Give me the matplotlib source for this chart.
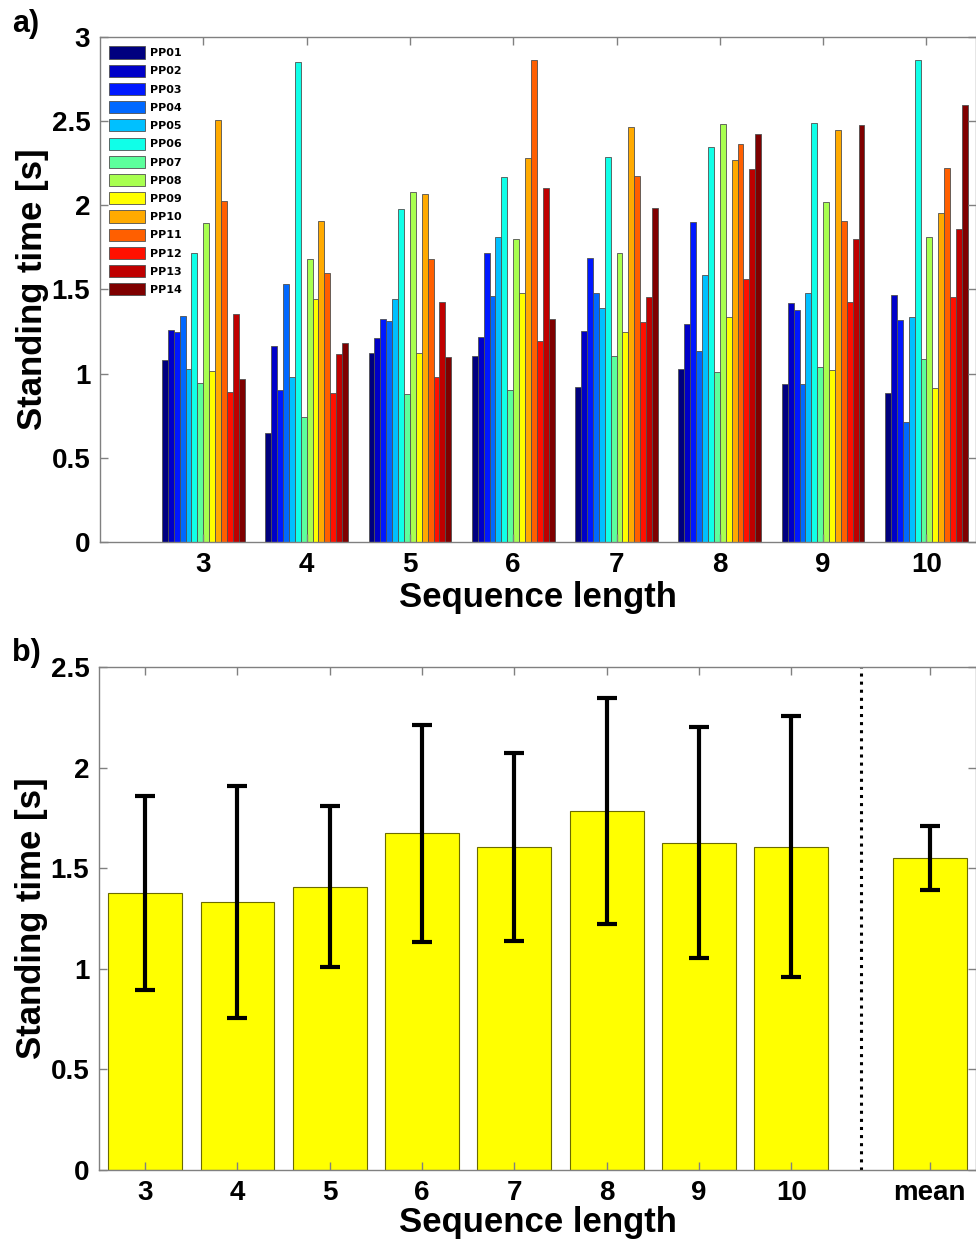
import numpy as np
import matplotlib
matplotlib.use("Agg")
import matplotlib.pyplot as plt
from matplotlib.ticker import FuncFormatter

# --- data ---
seq_lengths = [3, 4, 5, 6, 7, 8, 9, 10]
participants = ["PP%02d" % i for i in range(1, 15)]

# standing time [s] per sequence length, PP01..PP14
t_len3 = [1.08, 1.26, 1.25, 1.34, 1.03, 1.715, 0.943, 1.894, 1.018, 2.507, 2.024, 0.893, 1.355, 0.967]
t_len4 = [0.646, 1.167, 0.903, 1.533, 0.978, 2.854, 0.745, 1.683, 1.442, 1.907, 1.596, 0.883, 1.117, 1.18]
t_len5 = [1.121, 1.214, 1.323, 1.313, 1.446, 1.977, 0.881, 2.082, 1.121, 2.068, 1.68, 0.982, 1.428, 1.097]
t_len6 = [1.107, 1.216, 1.715, 1.464, 1.81, 2.167, 0.903, 1.799, 1.478, 2.28, 2.864, 1.194, 2.10, 1.323]
t_len7 = [0.919, 1.254, 1.686, 1.478, 1.392, 2.288, 1.107, 1.719, 1.246, 2.464, 2.175, 1.305, 1.456, 1.986]
t_len8 = [1.03, 1.295, 1.903, 1.137, 1.588, 2.345, 1.012, 2.484, 1.335, 2.268, 2.365, 1.563, 2.216, 2.424]
t_len9 = [0.941, 1.42, 1.377, 0.937, 1.478, 2.49, 1.04, 2.018, 1.02, 2.448, 1.909, 1.424, 1.80, 2.48]
t_len10 = [0.883, 1.47, 1.321, 0.715, 1.339, 2.864, 1.085, 1.812, 0.913, 1.955, 2.222, 1.456, 1.858, 2.598]

# group mean and std (panel b), last entry = overall mean
mean_labels = ["3", "4", "5", "6", "7", "8", "9", "10", "mean"]
mean_times = [1.377, 1.333, 1.408, 1.674, 1.606, 1.784, 1.627, 1.606, 1.55]
std_times = [0.484, 0.577, 0.40, 0.54, 0.467, 0.562, 0.575, 0.648, 0.16]

pp_colors = ["#00007F", "#0000C8", "#0018FF", "#0068FF", "#00C0FF", "#10FFE8", "#5CFF9C",
             "#A8FF50", "#FFFF00", "#FFAA00", "#FF5F00", "#FF1000", "#BF0000", "#7F0000"]

plt.rcParams["font.family"] = ["Liberation Sans", "DejaVu Sans"]
plt.rcParams["font.weight"] = "bold"

W, H = 976, 1241
fig = plt.figure(figsize=(W / 100., H / 100.), dpi=100)

def style_axes(ax):
    for s in ax.spines.values():
        s.set_color("#808080")
        s.set_linewidth(1.0)
    ax.tick_params(direction="in", length=6, width=1, color="#808080",
                   top=True, right=True, labelsize=20, pad=7)
    for lab in ax.get_xticklabels() + ax.get_yticklabels():
        lab.set_fontweight("bold")

g = lambda v, pos: "%g" % v

# ---------- panel a ----------
ax1 = fig.add_axes([100. / W, 1 - 542. / H, 876. / W, 505. / H])
data = np.array([t_len3, t_len4, t_len5, t_len6, t_len7, t_len8, t_len9, t_len10])
n = len(participants)
bw = 0.8 / n
x = np.array(seq_lengths, dtype=float)
for i in range(n):
    ax1.bar(x + (i - (n - 1) / 2.) * bw, data[:, i], width=bw, color=pp_colors[i],
            edgecolor="#505050", linewidth=0.6, label=participants[i])
ax1.set_xlim(2, 10.48)
ax1.set_ylim(0, 3)
ax1.set_xticks(seq_lengths)
ax1.set_yticks(np.arange(0, 3.01, 0.5))
ax1.yaxis.set_major_formatter(FuncFormatter(g))
ax1.set_xlabel("Sequence length", fontsize=25, fontweight="bold", labelpad=2)
ax1.set_ylabel("Standing time [s]", fontsize=25, fontweight="bold", labelpad=2)
style_axes(ax1)
leg = ax1.legend(loc="upper left", frameon=False, handlelength=3.2,
                 handleheight=1.3, labelspacing=0.55, handletextpad=0.45,
                 borderaxespad=0.45, prop={"family": "DejaVu Sans", "weight": "bold", "size": 8})
fig.text(12. / W, 1 - 24. / H, "a)", fontsize=22, fontweight="bold", va="center")

# ---------- panel b ----------
ax2 = fig.add_axes([99. / W, 1 - 1170. / H, 877. / W, 503. / H])
xb = np.array(list(range(3, 11)) + [11.5], dtype=float)
ax2.bar(xb, mean_times, width=0.8, color="#FFFF00", edgecolor="#6b6b00", linewidth=0.8)
ax2.errorbar(xb, mean_times, yerr=std_times, fmt="none", ecolor="black",
             elinewidth=3, capsize=7, capthick=3)
ax2.axvline(10.75, color="black", linestyle=":", linewidth=2.2)
ax2.set_xlim(2.5, 12)
ax2.set_ylim(0, 2.5)
ax2.set_xticks(xb)
ax2.set_xticklabels(mean_labels)
ax2.set_yticks(np.arange(0, 2.51, 0.5))
ax2.yaxis.set_major_formatter(FuncFormatter(g))
ax2.set_xlabel("Sequence length", fontsize=25, fontweight="bold", labelpad=0)
ax2.set_ylabel("Standing time [s]", fontsize=25, fontweight="bold", labelpad=2)
style_axes(ax2)
fig.text(12. / W, 1 - 653. / H, "b)", fontsize=22, fontweight="bold", va="center")

fig.savefig("out.png", dpi=100)
